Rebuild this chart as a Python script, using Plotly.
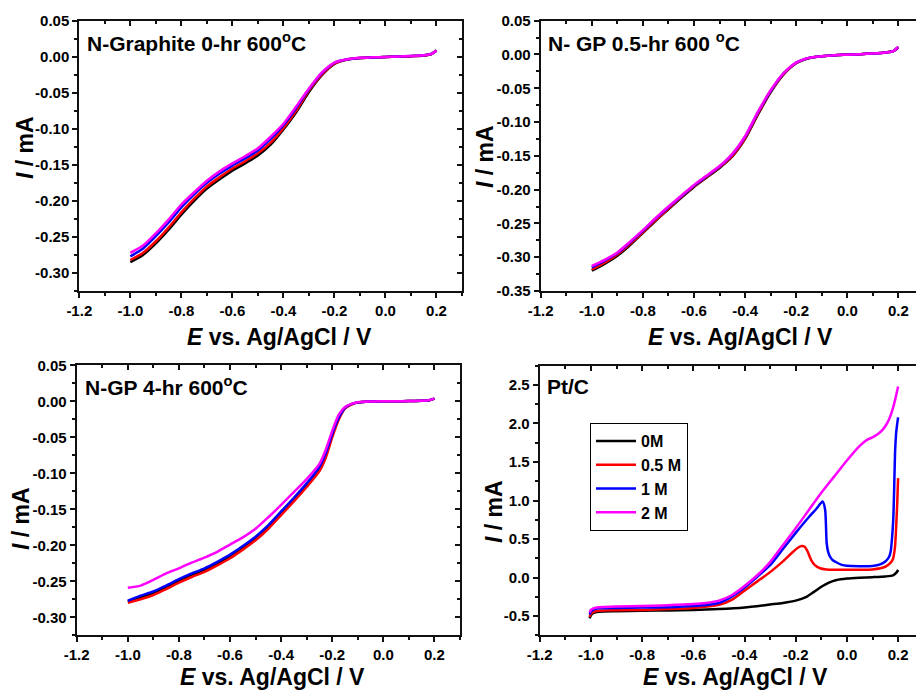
import plotly.graph_objects as go

W, H = 916, 692

SERIES = ["0M", "0.5 M", "1 M", "2 M"]
COLORS = ["#000000", "#ff0000", "#0000ff", "#ff00ff"]

# ---------------- Panel 1: N-Graphite 0-hr 600 C ----------------
E1 = [-1.0, -0.95, -0.9, -0.85, -0.8, -0.75, -0.7, -0.65, -0.6, -0.55, -0.5, -0.45, -0.4,
      -0.35, -0.3, -0.25, -0.2, -0.15, -0.1, -0.05, 0.0, 0.05, 0.1, 0.15, 0.18, 0.2]
p1_0M = [-0.285, -0.275, -0.259, -0.240, -0.219, -0.200, -0.183, -0.170, -0.158, -0.148, -0.137,
         -0.122, -0.101, -0.077, -0.049, -0.026, -0.010, -0.004, -0.0018, -0.001, -0.0004,
         0.0001, 0.0008, 0.0018, 0.0038, 0.0085]
p1_05M = [-0.282, -0.272, -0.256, -0.237, -0.216, -0.197, -0.180, -0.167, -0.155, -0.145, -0.134,
          -0.119, -0.099, -0.075, -0.047, -0.025, -0.0095, -0.0038, -0.0017, -0.001, -0.0004,
          0.0001, 0.0008, 0.0018, 0.0038, 0.0085]
p1_1M = [-0.277, -0.266, -0.249, -0.230, -0.209, -0.191, -0.175, -0.162, -0.151, -0.141, -0.130,
         -0.114, -0.095, -0.071, -0.045, -0.023, -0.0085, -0.0036, -0.0016, -0.0009, -0.0003,
         0.0002, 0.001, 0.002, 0.004, 0.0085]
p1_2M = [-0.272, -0.262, -0.245, -0.226, -0.205, -0.188, -0.172, -0.159, -0.148, -0.138, -0.127,
         -0.111, -0.093, -0.069, -0.044, -0.022, -0.008, -0.0035, -0.0015, -0.0008, -0.0003,
         0.0002, 0.001, 0.002, 0.004, 0.0085]

# ---------------- Panel 2: N- GP 0.5-hr 600 C ----------------
E2 = E1
p2_0M = [-0.320, -0.310, -0.298, -0.282, -0.264, -0.246, -0.229, -0.212, -0.196, -0.182, -0.168,
         -0.151, -0.125, -0.089, -0.056, -0.030, -0.013, -0.0055, -0.0027, -0.0011, -0.0003,
         0.0005, 0.0015, 0.003, 0.005, 0.011]
p2_05M = [-0.318, -0.308, -0.296, -0.280, -0.263, -0.245, -0.228, -0.211, -0.195, -0.181, -0.167,
          -0.150, -0.124, -0.088, -0.055, -0.029, -0.0125, -0.005, -0.0025, -0.001, -0.0003,
          0.0005, 0.0015, 0.003, 0.005, 0.011]
p2_1M = [-0.315, -0.305, -0.294, -0.278, -0.261, -0.243, -0.226, -0.210, -0.194, -0.180, -0.166,
         -0.148, -0.122, -0.086, -0.054, -0.028, -0.012, -0.005, -0.0025, -0.001, -0.0003,
         0.0005, 0.0015, 0.003, 0.005, 0.011]
p2_2M = [-0.313, -0.304, -0.293, -0.277, -0.260, -0.242, -0.225, -0.209, -0.193, -0.179, -0.165,
         -0.147, -0.121, -0.085, -0.053, -0.028, -0.012, -0.005, -0.0025, -0.001, -0.0003,
         0.0005, 0.0015, 0.003, 0.005, 0.011]

# ---------------- Panel 3: N-GP 4-hr 600 C ----------------
E3 = [-1.0, -0.95, -0.9, -0.85, -0.8, -0.75, -0.7, -0.65, -0.6, -0.55, -0.5, -0.45, -0.4,
      -0.35, -0.3, -0.25, -0.225, -0.2, -0.175, -0.15, -0.125, -0.1, -0.05, 0.0, 0.05,
      0.1, 0.15, 0.18, 0.2]
p3_0M = [-0.278, -0.272, -0.266, -0.258, -0.249, -0.241, -0.234, -0.225, -0.215, -0.203, -0.190,
         -0.174, -0.155, -0.136, -0.116, -0.093, -0.074, -0.047, -0.024, -0.0095, -0.004,
         -0.0015, -0.0003, 0.0, 0.0, 0.0003, 0.0008, 0.0015, 0.0037]
p3_05M = [-0.280, -0.275, -0.269, -0.261, -0.252, -0.244, -0.237, -0.228, -0.218, -0.206, -0.193,
          -0.177, -0.158, -0.139, -0.119, -0.097, -0.078, -0.050, -0.026, -0.010, -0.0045,
          -0.0017, -0.0003, 0.0, 0.0, 0.0003, 0.0008, 0.0015, 0.0037]
p3_1M = [-0.277, -0.270, -0.264, -0.256, -0.247, -0.239, -0.232, -0.223, -0.213, -0.201, -0.188,
         -0.172, -0.153, -0.134, -0.114, -0.091, -0.072, -0.045, -0.023, -0.009, -0.004,
         -0.0015, -0.0003, 0.0, 0.0, 0.0003, 0.0008, 0.0015, 0.0037]
p3_2M = [-0.259, -0.256, -0.248, -0.239, -0.232, -0.224, -0.217, -0.209, -0.199, -0.189, -0.177,
         -0.161, -0.144, -0.126, -0.108, -0.087, -0.067, -0.041, -0.019, -0.008, -0.0035,
         -0.0012, -0.0003, 0.0, 0.0, 0.0003, 0.0008, 0.0015, 0.0037]

# ---------------- Panel 4: Pt/C ----------------
E4_0M = [-1.005, -1.0, -0.99, -0.97, -0.9, -0.8, -0.7, -0.6, -0.5, -0.4, -0.3, -0.25, -0.2,
         -0.16, -0.13, -0.1, -0.07, -0.04, 0.0, 0.05, 0.1, 0.15, 0.18, 0.195, 0.2]
p4_0M = [-0.53, -0.49, -0.46, -0.445, -0.438, -0.432, -0.427, -0.42, -0.41, -0.39, -0.35, -0.33,
         -0.30, -0.255, -0.19, -0.12, -0.065, -0.032, -0.013, -0.002, 0.005, 0.014, 0.028, 0.07, 0.10]
E4_05M = [-1.005, -1.0, -0.99, -0.97, -0.9, -0.8, -0.7, -0.6, -0.5, -0.45, -0.4, -0.35, -0.3,
          -0.25, -0.21, -0.19, -0.177, -0.165, -0.155, -0.14, -0.125, -0.105, -0.08, -0.05,
          0.0, 0.05, 0.1, 0.15, 0.17, 0.18, 0.188, 0.193, 0.197, 0.2]
p4_05M = [-0.51, -0.47, -0.445, -0.43, -0.425, -0.42, -0.41, -0.395, -0.355, -0.29, -0.17, -0.05,
          0.07, 0.21, 0.335, 0.39, 0.41, 0.40, 0.35, 0.23, 0.16, 0.12, 0.105, 0.10, 0.10, 0.10,
          0.105, 0.14, 0.19, 0.24, 0.40, 0.70, 1.00, 1.29]
E4_1M = [-1.005, -1.0, -0.99, -0.97, -0.9, -0.8, -0.7, -0.6, -0.5, -0.45, -0.4, -0.35, -0.3,
         -0.25, -0.2, -0.15, -0.12, -0.095, -0.085, -0.079, -0.073, -0.066, -0.055, -0.04,
         -0.02, 0.0, 0.05, 0.1, 0.13, 0.15, 0.165, 0.171, 0.176, 0.181, 0.185, 0.188, 0.193, 0.2]
p4_1M = [-0.48, -0.44, -0.415, -0.40, -0.395, -0.39, -0.385, -0.37, -0.33, -0.25, -0.13, 0.01,
         0.16, 0.37, 0.58, 0.78, 0.89, 0.986, 0.88, 0.445, 0.33, 0.272, 0.225, 0.195, 0.165,
         0.152, 0.148, 0.151, 0.17, 0.208, 0.27, 0.337, 0.50, 0.748, 1.20, 1.613, 1.90, 2.08]
E4_2M = [-1.005, -1.0, -0.99, -0.97, -0.9, -0.8, -0.7, -0.6, -0.55, -0.5, -0.45, -0.4, -0.35,
         -0.3, -0.25, -0.2, -0.15, -0.1, -0.05, 0.0, 0.05, 0.08, 0.1, 0.12, 0.14, 0.16, 0.18,
         0.19, 0.2]
p4_2M = [-0.455, -0.42, -0.40, -0.385, -0.375, -0.37, -0.36, -0.345, -0.33, -0.30, -0.23, -0.11,
         0.03, 0.20, 0.42, 0.64, 0.87, 1.10, 1.31, 1.52, 1.71, 1.79, 1.82, 1.86, 1.92, 2.02, 2.20,
         2.33, 2.48]

# ---------------- Tick labels ----------------
X_TICKVALS = [-1.2, -1.0, -0.8, -0.6, -0.4, -0.2, 0.0, 0.2]
X_TICKTEXT = ["-1.2", "-1.0", "-0.8", "-0.6", "-0.4", "-0.2", "0.0", "0.2"]
Y1_TICKVALS = [0.05, 0.0, -0.05, -0.10, -0.15, -0.20, -0.25, -0.30]
Y1_TICKTEXT = ["0.05", "0.00", "-0.05", "-0.10", "-0.15", "-0.20", "-0.25", "-0.30"]
Y2_TICKVALS = [0.05, 0.0, -0.05, -0.10, -0.15, -0.20, -0.25, -0.30, -0.35]
Y2_TICKTEXT = ["0.05", "0.00", "-0.05", "-0.10", "-0.15", "-0.20", "-0.25", "-0.30", "-0.35"]
Y4_TICKVALS = [2.5, 2.0, 1.5, 1.0, 0.5, 0.0, -0.5]
Y4_TICKTEXT = ["2.5", "2.0", "1.5", "1.0", "0.5", "0.0", "-0.5"]

TITLES = ["N-Graphite 0-hr 600<sup>o</sup>C", "N- GP 0.5-hr 600 <sup>o</sup>C",
          "N-GP 4-hr 600<sup>o</sup>C", "Pt/C"]
XTITLE = "<i>E</i> vs. Ag/AgCl / V"
YTITLE = "<i>I</i> / mA"

FONT = "Liberation Sans, Arial, sans-serif"


def px_x(p):
    return p / W


def px_y(p):
    return 1 - p / H


panels = [
    dict(E=[E1] * 4, I=[p1_0M, p1_05M, p1_1M, p1_2M],
         xd=[px_x(79.3), px_x(462)], yd=[px_y(291), px_y(20.7)],
         xr=[-1.2, 0.3], yr=[-0.325, 0.05], ytv=Y1_TICKVALS, ytt=Y1_TICKTEXT, ymin=0.025,
         right=True, ann=(85, 42.5), xt=(279, 337), yt=(25, 148)),
    dict(E=[E2] * 4, I=[p2_0M, p2_05M, p2_1M, p2_2M],
         xd=[px_x(540.7), 1.0], yd=[px_y(291), px_y(20.7)],
         xr=[-1.2, -1.2 + (916 - 540.7) / 51.1 * 0.2], yr=[-0.35, 0.05],
         ytv=Y2_TICKVALS, ytt=Y2_TICKTEXT, ymin=0.025, right=False, ann=(546, 41.5),
         xt=(740, 337), yt=(485, 157)),
    dict(E=[E3] * 4, I=[p3_0M, p3_05M, p3_1M, p3_2M],
         xd=[px_x(76.7), px_x(460)], yd=[px_y(635.3), px_y(365.3)],
         xr=[-1.2, 0.3], yr=[-0.325, 0.05], ytv=Y1_TICKVALS, ytt=Y1_TICKTEXT, ymin=0.025,
         right=True, ann=(83, 386.5), xt=(272, 677), yt=(21, 519)),
    dict(E=[E4_0M, E4_05M, E4_1M, E4_2M], I=[p4_0M, p4_05M, p4_1M, p4_2M],
         xd=[px_x(539.7), 1.0], yd=[px_y(635.3), px_y(365.7)],
         xr=[-1.2, -1.2 + (916 - 539.7) / 51.2 * 0.2], yr=[-0.75, 2.75],
         ytv=Y4_TICKVALS, ytt=Y4_TICKTEXT, ymin=0.25, right=False, ann=(545, 386.5),
         xt=(735, 677), yt=(494, 512)),
]

fig = go.Figure()
layout = dict(
    width=W, height=H, margin=dict(l=0, r=0, t=0, b=0, autoexpand=False),
    paper_bgcolor="white", plot_bgcolor="white",
    font=dict(family=FONT, color="black"),
    showlegend=True,
    legend=dict(x=px_x(590), y=px_y(423), xanchor="left", yanchor="top",
                bordercolor="black", borderwidth=1, bgcolor="white",
                font=dict(family=FONT, size=16, weight="bold", color="black"),
                itemwidth=40, tracegroupgap=0),
    annotations=[],
)

LINEC = "#111111"
TICKFONT = dict(family=FONT, size=15, weight="bold", color="black")
TITLEFONT = dict(family=FONT, size=23, weight="bold", color="black")

for k, p in enumerate(panels):
    i = k + 1
    xs = "" if i == 1 else str(i)
    xo = str(i + 4)
    xa, ya = "x" + xs, "y" + xs
    for s in range(4):
        fig.add_trace(go.Scatter(
            x=p["E"][s], y=p["I"][s], mode="lines", name=SERIES[s],
            line=dict(color=COLORS[s], width=2.5, shape="spline", smoothing=0.6),
            xaxis=xa, yaxis=ya, showlegend=(i == 4), hoverinfo="skip"))
    # dummy traces to anchor the mirrored (top/right) tick axes
    fig.add_trace(go.Scatter(x=[None], y=[None], xaxis="x" + xo, yaxis=ya,
                             showlegend=False, hoverinfo="skip"))
    if p["right"]:
        fig.add_trace(go.Scatter(x=[None], y=[None], xaxis=xa, yaxis="y" + xo,
                                 showlegend=False, hoverinfo="skip"))

    common_x = dict(range=p["xr"], tickmode="array", tickvals=X_TICKVALS,
                    linecolor=LINEC, linewidth=2, tickcolor=LINEC, tickwidth=1.5,
                    showgrid=False, zeroline=False, automargin=False)
    common_y = dict(range=p["yr"], tickmode="array", tickvals=p["ytv"],
                    linecolor=LINEC, linewidth=2, tickcolor=LINEC, tickwidth=1.5,
                    showgrid=False, zeroline=False, automargin=False)

    layout["xaxis" + xs] = dict(
        common_x, domain=p["xd"], anchor=ya, side="bottom", showline=True,
        ticks="outside", ticklen=5, ticktext=X_TICKTEXT, tickfont=TICKFONT,
        minor=dict(ticks="outside", ticklen=3, tickmode="linear", tick0=0, dtick=0.1,
                   tickcolor=LINEC, tickwidth=1.5))
    layout["yaxis" + xs] = dict(
        common_y, domain=p["yd"], anchor=xa, side="left", showline=True,
        ticks="outside", ticklen=5, ticktext=p["ytt"], tickfont=TICKFONT,
        minor=dict(ticks="outside", ticklen=3, tickmode="linear", tick0=0, dtick=p["ymin"],
                   tickcolor=LINEC, tickwidth=1.5))
    layout["xaxis" + xo] = dict(
        common_x, overlaying=xa, anchor=ya, side="top", showline=True,
        ticks="inside", ticklen=5, showticklabels=False,
        minor=dict(ticks="inside", ticklen=3, tickmode="linear", tick0=0, dtick=0.1,
                   tickcolor=LINEC, tickwidth=1.5))
    if p["right"]:
        layout["yaxis" + xo] = dict(
            common_y, overlaying=ya, anchor=xa, side="right", showline=True,
            ticks="inside", ticklen=5, showticklabels=False,
            minor=dict(ticks="inside", ticklen=3, tickmode="linear", tick0=0, dtick=p["ymin"],
                       tickcolor=LINEC, tickwidth=1.5))

    ax, ay = p["ann"]
    layout["annotations"].append(dict(
        text=TITLES[k], x=px_x(ax), y=px_y(ay), xref="paper", yref="paper",
        xanchor="left", yanchor="middle", showarrow=False,
        font=dict(family=FONT, size=21, weight="bold", color="black")))
    tx, ty = p["xt"]
    layout["annotations"].append(dict(
        text=XTITLE, x=px_x(tx), y=px_y(ty), xref="paper", yref="paper",
        xanchor="center", yanchor="middle", showarrow=False, font=TITLEFONT))
    tx, ty = p["yt"]
    layout["annotations"].append(dict(
        text=YTITLE, x=px_x(tx), y=px_y(ty), xref="paper", yref="paper",
        xanchor="center", yanchor="middle", textangle=-90, showarrow=False, font=TITLEFONT))

fig.update_layout(**layout)
fig.write_html("out.html")
